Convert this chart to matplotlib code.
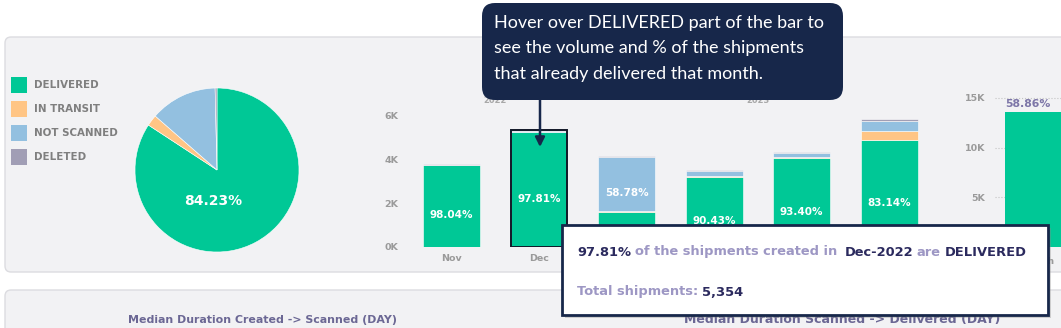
import matplotlib.pyplot as plt
from matplotlib.patches import FancyBboxPatch, Rectangle

W, H = 1061, 328

# status breakdown (pie)
status_labels = ['DELIVERED', 'IN TRANSIT', 'NOT SCANNED', 'DELETED']
status_colors = ['#00c896', '#ffc585', '#93c0e0', '#a19eb5']
pie_share = [84.23, 2.20, 13.20, 0.37]
pie_label = '84.23%'

# monthly stacked bars
months = ['Nov', 'Dec', 'Jan', 'Feb', 'Mar', 'Apr']
month_year = ['2022', '2022', '2023', '2023', '2023', '2023']
delivered = [3726, 5237, 1600, 3183, 4063, 4872]
in_transit = [10, 10, 60, 40, 70, 450]
not_scanned = [20, 50, 2448, 250, 160, 430]
deleted = [44, 57, 57, 47, 57, 108]
bar_labels = ['98.04%', '97.81%', '58.78%', '90.43%', '93.40%', '83.14%']
label_segment = [0, 0, 2, 0, 0, 0]
highlight = 1

# right chart (cut off)
right_cats = ['Month']
right_values = [13600]
right_label = '58.86%'

navy = '#17274a'
dark_text = '#2b2a5e'
light_text = '#9d97c4'
grey = '#9a9a9a'
BOLD = ['DejaVu Sans']

plt.rcParams['font.family'] = ['Lato', 'DejaVu Sans']

fig = plt.figure(figsize=(W / 100, H / 100), dpi=100)


def rect(x0, y0, x1, y1):
    return [x0 / W, 1 - y1 / H, (x1 - x0) / W, (y1 - y0) / H]


# background panels
bg = fig.add_axes([0, 0, 1, 1])
bg.set_xlim(0, W)
bg.set_ylim(H, 0)
bg.axis('off')
bg.add_patch(FancyBboxPatch((5, 37), 1100, 235, boxstyle='round,pad=0,rounding_size=6',
                            fc='#f2f2f4', ec='#dcdce0', lw=1))
bg.add_patch(FancyBboxPatch((5, 290), 1100, 80, boxstyle='round,pad=0,rounding_size=6',
                            fc='#f2f2f4', ec='#dcdce0', lw=1))
for i, (lab, col) in enumerate(zip(status_labels, status_colors)):
    y = 85 + i * 24
    bg.add_patch(Rectangle((11, y - 8), 16, 16, fc=col, ec='none'))
    bg.text(34, y, lab, fontsize=7.4, fontweight='bold', color='#7f7f7f', va='center',
            family=BOLD)
bg.text(262, 320, 'Median Duration Created -> Scanned (DAY)', fontsize=7.9,
        fontweight='bold', color='#6b6794', ha='center', va='center', family=BOLD)
bg.text(842, 320, 'Median Duration Scanned -> Delivered (DAY)', fontsize=9,
        fontweight='bold', color='#6b6794', ha='center', va='center', family=BOLD)

# pie
axp = fig.add_axes(rect(135, 88, 299, 252))
axp.pie(pie_share, colors=status_colors, startangle=90, counterclock=False,
        wedgeprops=dict(edgecolor='white', linewidth=0.4))
axp.set_xlim(-1, 1)
axp.set_ylim(-1, 1)
axp.text(-0.05, -0.38, pie_label, color='white', fontsize=10, fontweight='bold',
         ha='center', va='center', family=BOLD)

# monthly bars
axb = fig.add_axes(rect(405, 107, 940, 247))
axb.patch.set_alpha(0)
x = list(range(len(months)))
segs = [delivered, in_transit, not_scanned, deleted]
bottom = [0] * len(months)
for vals, col in zip(segs, status_colors):
    axb.bar(x, vals, bottom=bottom, width=0.65, color=col, edgecolor='white', linewidth=0.4)
    bottom = [b + v for b, v in zip(bottom, vals)]
totals = bottom
axb.bar([highlight], [totals[highlight]], width=0.65, fill=False, edgecolor='#111827', linewidth=1.4)
for i in x:
    seg = label_segment[i]
    base = sum(s[i] for s in segs[:seg])
    mid = base + segs[seg][i] / 2
    axb.annotate(bar_labels[i], (i, mid), xytext=(0, -6.5), textcoords='offset points',
                 color='white', fontsize=7.5, fontweight='bold', ha='center', va='center',
                 family=BOLD)
for yr in dict.fromkeys(month_year):
    idx = [i for i, m in enumerate(month_year) if m == yr]
    axb.text(sum(idx) / len(idx), 6680, yr, fontsize=6, fontweight='bold', color='#a8a8a8',
             ha='center', va='center', clip_on=False, family=BOLD)
axb.set_xlim(-0.53, 5.58)
axb.set_ylim(0, 6400)
axb.set_xticks(x)
axb.set_xticklabels(months)
axb.set_yticks([0, 2000, 4000, 6000])
axb.set_yticklabels(['0K', '2K', '4K', '6K'])
axb.tick_params(length=0, labelsize=6.8, labelcolor=grey, pad=5)
for t in axb.get_xticklabels() + axb.get_yticklabels():
    t.set_fontweight('bold')
    t.set_family(BOLD)
for s in axb.spines.values():
    s.set_visible(False)

# right chart, partly outside the figure
axr = fig.add_axes(rect(995, 93, 1125, 247))
axr.patch.set_alpha(0)
axr.set_axisbelow(True)
axr.bar(range(len(right_cats)), right_values, width=1.0, color=status_colors[0])
axr.text(-0.5, right_values[0] + 300, right_label, color='#7d76a8', fontsize=7.8,
         fontweight='bold', ha='left', va='bottom', family=BOLD)
axr.set_xlim(-0.65, 1.35)
axr.set_ylim(0, 15500)
axr.set_xticks(range(len(right_cats)))
axr.set_xticklabels(right_cats)
axr.set_yticks([0, 5000, 10000, 15000])
axr.set_yticklabels(['0K', '5K', '10K', '15K'])
axr.yaxis.grid(True, linestyle=':', color='#c4c4c4', linewidth=0.8)
axr.tick_params(length=0, labelsize=6.8, labelcolor=grey, pad=7)
for t in axr.get_xticklabels() + axr.get_yticklabels():
    t.set_fontweight('bold')
    t.set_family(BOLD)
for s in axr.spines.values():
    s.set_visible(False)

# overlay tooltips
ov = fig.add_axes([0, 0, 1, 1], zorder=10)
ov.set_xlim(0, W)
ov.set_ylim(H, 0)
ov.axis('off')
ov.add_patch(FancyBboxPatch((482, 3), 361, 97, boxstyle='round,pad=0,rounding_size=13',
                            fc=navy, ec='none'))
hover = ['Hover over DELIVERED part of the bar to',
         'see the volume and % of the shipments',
         'that already delivered that month.']
for i, line in enumerate(hover):
    ov.text(494, 23 + i * 25.5, line, color='white', fontsize=13, va='center')
ov.annotate('', xy=(540, 147), xytext=(540, 100),
            arrowprops=dict(arrowstyle='-|>', color=navy, lw=1.8, mutation_scale=14,
                            shrinkA=0, shrinkB=0))

ov.add_patch(Rectangle((565, 228), 486, 90, fc='#888888', ec='none', alpha=0.35))
ov.add_patch(Rectangle((562, 225), 486, 90, fc='white', ec=navy, lw=2))

renderer = fig.canvas.get_renderer()


def run_text(x0, y, parts, size):
    xx = x0
    for s, col in parts:
        if s == ' ':
            xx += size * 0.4
            continue
        t = ov.text(xx, y, s, color=col, fontsize=size, fontweight='bold', va='center',
                    family=BOLD)
        xx += t.get_window_extent(renderer).width


run_text(577, 252, [('97.81%', dark_text), (' ', None), ('of the shipments created in', light_text),
                    (' ', None), (' ', None), ('Dec-2022', dark_text), (' ', None),
                    ('are', light_text), (' ', None), ('DELIVERED', dark_text)], 9.4)
run_text(577, 292, [('Total shipments:', light_text), (' ', None), ('5,354', dark_text)], 9.4)

fig.savefig('out.png', dpi=100)
